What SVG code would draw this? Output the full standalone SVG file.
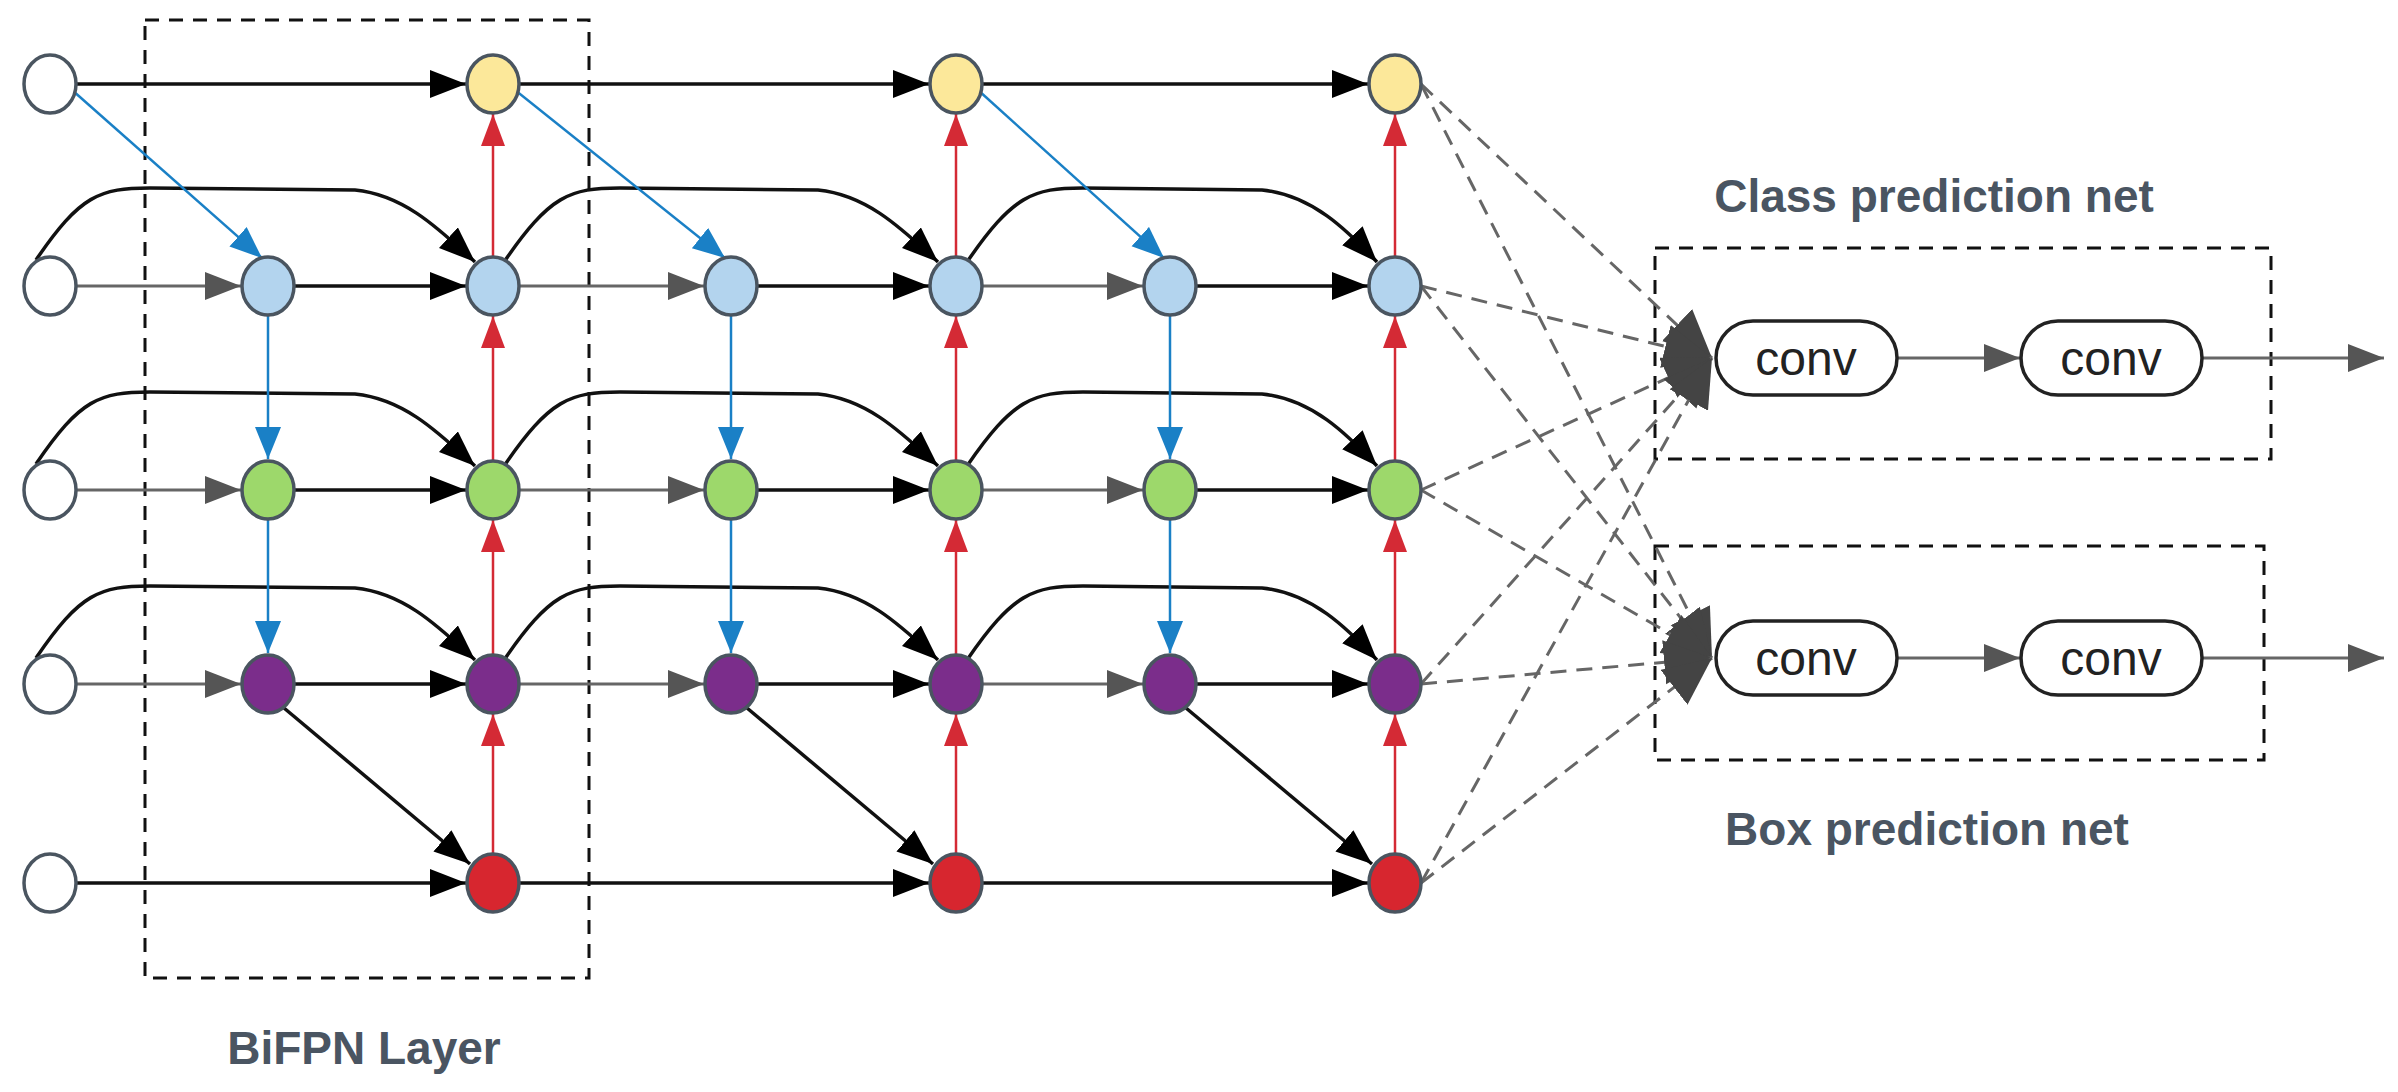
<svg xmlns="http://www.w3.org/2000/svg" width="2398" height="1092" viewBox="0 0 2398 1092">
<style>
.n{stroke:#4a5560;stroke-width:3.5}
.bk{stroke:#111;stroke-width:3.5;fill:none;marker-end:url(#mb)}
.gr{stroke:#666;stroke-width:3;fill:none;marker-end:url(#mg)}
.bl{stroke:#1a80c6;stroke-width:2.5;fill:none;marker-end:url(#mbl)}
.rd{stroke:#d42a35;stroke-width:2.5;fill:none;marker-end:url(#mr)}
.ds{stroke:#666;stroke-width:3;stroke-dasharray:16 10;fill:none;marker-end:url(#md)}
.box{stroke:#111;stroke-width:3;stroke-dasharray:14 10;fill:none}
.lbl{font-family:"Liberation Sans",Arial,sans-serif;font-weight:bold;font-size:46px;fill:#4a5562;text-anchor:middle}
.conv{fill:#fff;stroke:#222;stroke-width:3.5}
.ct{font-family:"Liberation Sans",Arial,sans-serif;font-size:48px;fill:#222;text-anchor:middle}
</style>
<defs>
<marker id="mb" markerUnits="userSpaceOnUse" markerWidth="38" markerHeight="30" refX="36" refY="14" orient="auto"><path d="M0,0 L36,14 L0,28z" fill="#000"/></marker>
<marker id="mg" markerUnits="userSpaceOnUse" markerWidth="38" markerHeight="30" refX="36" refY="14" orient="auto"><path d="M0,0 L36,14 L0,28z" fill="#555"/></marker>
<marker id="mbl" markerUnits="userSpaceOnUse" markerWidth="34" markerHeight="28" refX="32" refY="13" orient="auto"><path d="M0,0 L32,13 L0,26z" fill="#1a80c6"/></marker>
<marker id="mr" markerUnits="userSpaceOnUse" markerWidth="34" markerHeight="26" refX="32" refY="12" orient="auto"><path d="M0,0 L32,12 L0,24z" fill="#d42a35"/></marker>
<marker id="md" markerUnits="userSpaceOnUse" markerWidth="50" markerHeight="46" refX="48" refY="22" orient="auto"><path d="M0,0 L48,22 L0,44z" fill="#444"/></marker>
</defs>
<rect width="2398" height="1092" fill="#fff"/>
<rect class="box" x="145" y="20" width="444" height="958"/>
<text class="lbl" x="364" y="1064">BiFPN Layer</text>
<rect class="box" x="1655" y="248" width="616" height="211"/>
<text class="lbl" x="1934" y="212">Class prediction net</text>
<rect class="box" x="1655" y="546" width="609" height="214"/>
<text class="lbl" x="1927" y="845">Box prediction net</text>
<g id="connectors">
<line class="bk" x1="76" y1="84" x2="466" y2="84"/>
<line class="bk" x1="519" y1="84" x2="929" y2="84"/>
<line class="bk" x1="982" y1="84" x2="1368" y2="84"/>
<line class="bk" x1="76" y1="883" x2="466" y2="883"/>
<line class="bk" x1="519" y1="883" x2="929" y2="883"/>
<line class="bk" x1="982" y1="883" x2="1368" y2="883"/>
<g>
<line class="gr" x1="76" y1="286" x2="241" y2="286"/><line class="bk" x1="294" y1="286" x2="466" y2="286"/>
<line class="gr" x1="519" y1="286" x2="704" y2="286"/><line class="bk" x1="757" y1="286" x2="929" y2="286"/>
<line class="gr" x1="982" y1="286" x2="1143" y2="286"/><line class="bk" x1="1196" y1="286" x2="1368" y2="286"/>
<line class="gr" x1="76" y1="490" x2="241" y2="490"/><line class="bk" x1="294" y1="490" x2="466" y2="490"/>
<line class="gr" x1="519" y1="490" x2="704" y2="490"/><line class="bk" x1="757" y1="490" x2="929" y2="490"/>
<line class="gr" x1="982" y1="490" x2="1143" y2="490"/><line class="bk" x1="1196" y1="490" x2="1368" y2="490"/>
<line class="gr" x1="76" y1="684" x2="241" y2="684"/><line class="bk" x1="294" y1="684" x2="466" y2="684"/>
<line class="gr" x1="519" y1="684" x2="704" y2="684"/><line class="bk" x1="757" y1="684" x2="929" y2="684"/>
<line class="gr" x1="982" y1="684" x2="1143" y2="684"/><line class="bk" x1="1196" y1="684" x2="1368" y2="684"/>
</g>
<path class="bk" d="M36,260 C80,195 100,188 150,188 L355,190 C405,195 440,230 475,262"/>
<path class="bk" d="M36,464 C80,399 100,392 150,392 L355,394 C405,399 440,434 475,466"/>
<path class="bk" d="M36,658 C80,593 100,586 150,586 L355,588 C405,593 440,628 475,660"/>
<path class="bk" d="M504,262 C550,195 570,188 620,188 L818,190 C868,195 903,230 938,262"/>
<path class="bk" d="M504,466 C550,399 570,392 620,392 L818,394 C868,399 903,434 938,466"/>
<path class="bk" d="M504,660 C550,593 570,586 620,586 L818,588 C868,593 903,628 938,660"/>
<path class="bk" d="M967,262 C1013,195 1033,188 1083,188 L1262,190 C1312,195 1347,230 1377,262"/>
<path class="bk" d="M967,466 C1013,399 1033,392 1083,392 L1262,394 C1312,399 1347,434 1377,466"/>
<path class="bk" d="M967,660 C1013,593 1033,586 1083,586 L1262,588 C1312,593 1347,628 1377,660"/>
<line class="bl" x1="72" y1="90" x2="262" y2="258"/>
<line class="bl" x1="515" y1="90" x2="725" y2="258"/>
<line class="bl" x1="978" y1="90" x2="1164" y2="258"/>
<line class="bl" x1="268" y1="316" x2="268" y2="459"/><line class="bl" x1="268" y1="520" x2="268" y2="653"/>
<line class="bl" x1="731" y1="316" x2="731" y2="459"/><line class="bl" x1="731" y1="520" x2="731" y2="653"/>
<line class="bl" x1="1170" y1="316" x2="1170" y2="459"/><line class="bl" x1="1170" y1="520" x2="1170" y2="653"/>
<line class="bk" x1="284" y1="708" x2="470" y2="864"/>
<line class="bk" x1="747" y1="708" x2="933" y2="864"/>
<line class="bk" x1="1186" y1="708" x2="1372" y2="864"/>
<g>
<line class="rd" x1="493" y1="853" x2="493" y2="714"/><line class="rd" x1="493" y1="654" x2="493" y2="520"/><line class="rd" x1="493" y1="460" x2="493" y2="316"/><line class="rd" x1="493" y1="256" x2="493" y2="114"/>
<line class="rd" x1="956" y1="853" x2="956" y2="714"/><line class="rd" x1="956" y1="654" x2="956" y2="520"/><line class="rd" x1="956" y1="460" x2="956" y2="316"/><line class="rd" x1="956" y1="256" x2="956" y2="114"/>
<line class="rd" x1="1395" y1="853" x2="1395" y2="714"/><line class="rd" x1="1395" y1="654" x2="1395" y2="520"/><line class="rd" x1="1395" y1="460" x2="1395" y2="316"/><line class="rd" x1="1395" y1="256" x2="1395" y2="114"/>
</g>
<line class="ds" x1="1421" y1="84" x2="1712" y2="358"/>
<line class="ds" x1="1421" y1="286" x2="1712" y2="358"/>
<line class="ds" x1="1421" y1="490" x2="1712" y2="358"/>
<line class="ds" x1="1421" y1="684" x2="1712" y2="358"/>
<line class="ds" x1="1421" y1="883" x2="1712" y2="358"/>
<line class="ds" x1="1421" y1="84" x2="1712" y2="658"/>
<line class="ds" x1="1421" y1="286" x2="1712" y2="658"/>
<line class="ds" x1="1421" y1="490" x2="1712" y2="658"/>
<line class="ds" x1="1421" y1="684" x2="1712" y2="658"/>
<line class="ds" x1="1421" y1="883" x2="1712" y2="658"/>
<line class="gr" x1="1897" y1="358" x2="2020" y2="358"/>
<line class="gr" x1="2203" y1="358" x2="2384" y2="358"/>
<line class="gr" x1="1897" y1="658" x2="2020" y2="658"/>
<line class="gr" x1="2203" y1="658" x2="2384" y2="658"/>
</g>
<g id="conv1"><rect class="conv" x="1716" y="321" width="181" height="74" rx="37"/><text class="ct" x="1806" y="375">conv</text></g>
<g id="conv2"><rect class="conv" x="2021" y="321" width="181" height="74" rx="37"/><text class="ct" x="2111" y="375">conv</text></g>
<g id="conv3"><rect class="conv" x="1716" y="621" width="181" height="74" rx="37"/><text class="ct" x="1806" y="675">conv</text></g>
<g id="conv4"><rect class="conv" x="2021" y="621" width="181" height="74" rx="37"/><text class="ct" x="2111" y="675">conv</text></g>
<g id="in0"><ellipse class="n" cx="50" cy="84" rx="26" ry="29" fill="#fff"/></g>
<g id="in1"><ellipse class="n" cx="50" cy="286" rx="26" ry="29" fill="#fff"/></g>
<g id="in2"><ellipse class="n" cx="50" cy="490" rx="26" ry="29" fill="#fff"/></g>
<g id="in3"><ellipse class="n" cx="50" cy="684" rx="26" ry="29" fill="#fff"/></g>
<g id="in4"><ellipse class="n" cx="50" cy="883" rx="26" ry="29" fill="#fff"/></g>
<g id="c1"><ellipse class="n" cx="268" cy="286" rx="26" ry="29" fill="#b3d4ee"/><ellipse class="n" cx="268" cy="490" rx="26" ry="29" fill="#9dd86b"/><ellipse class="n" cx="268" cy="684" rx="26" ry="29" fill="#7b2d8b"/></g>
<g id="c2"><ellipse class="n" cx="493" cy="84" rx="26" ry="29" fill="#fce89a"/><ellipse class="n" cx="493" cy="286" rx="26" ry="29" fill="#b3d4ee"/><ellipse class="n" cx="493" cy="490" rx="26" ry="29" fill="#9dd86b"/><ellipse class="n" cx="493" cy="684" rx="26" ry="29" fill="#7b2d8b"/><ellipse class="n" cx="493" cy="883" rx="26" ry="29" fill="#d7262f"/></g>
<g id="c3"><ellipse class="n" cx="731" cy="286" rx="26" ry="29" fill="#b3d4ee"/><ellipse class="n" cx="731" cy="490" rx="26" ry="29" fill="#9dd86b"/><ellipse class="n" cx="731" cy="684" rx="26" ry="29" fill="#7b2d8b"/></g>
<g id="c4"><ellipse class="n" cx="956" cy="84" rx="26" ry="29" fill="#fce89a"/><ellipse class="n" cx="956" cy="286" rx="26" ry="29" fill="#b3d4ee"/><ellipse class="n" cx="956" cy="490" rx="26" ry="29" fill="#9dd86b"/><ellipse class="n" cx="956" cy="684" rx="26" ry="29" fill="#7b2d8b"/><ellipse class="n" cx="956" cy="883" rx="26" ry="29" fill="#d7262f"/></g>
<g id="c5"><ellipse class="n" cx="1170" cy="286" rx="26" ry="29" fill="#b3d4ee"/><ellipse class="n" cx="1170" cy="490" rx="26" ry="29" fill="#9dd86b"/><ellipse class="n" cx="1170" cy="684" rx="26" ry="29" fill="#7b2d8b"/></g>
<g id="c6"><ellipse class="n" cx="1395" cy="84" rx="26" ry="29" fill="#fce89a"/><ellipse class="n" cx="1395" cy="286" rx="26" ry="29" fill="#b3d4ee"/><ellipse class="n" cx="1395" cy="490" rx="26" ry="29" fill="#9dd86b"/><ellipse class="n" cx="1395" cy="684" rx="26" ry="29" fill="#7b2d8b"/><ellipse class="n" cx="1395" cy="883" rx="26" ry="29" fill="#d7262f"/></g>
</svg>
